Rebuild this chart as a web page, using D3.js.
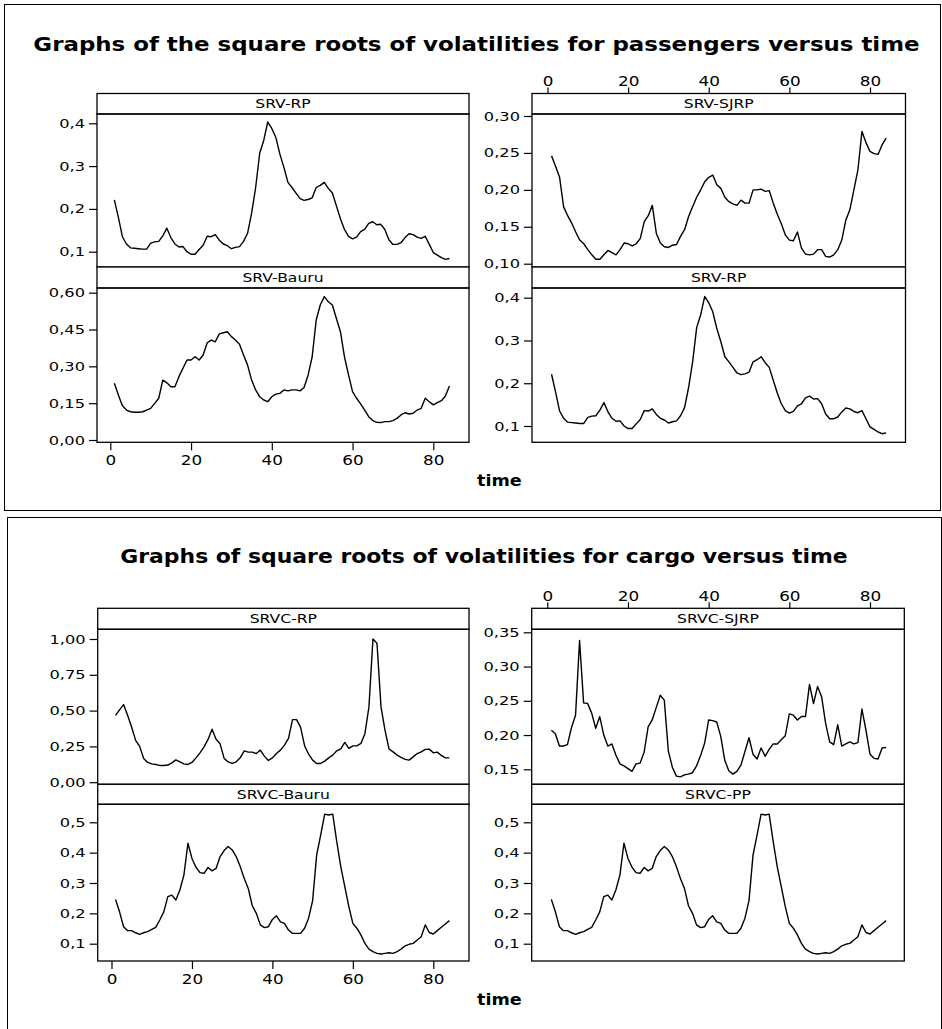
<!DOCTYPE html>
<html><head><meta charset="utf-8">
<script src="https://cdn.jsdelivr.net/npm/d3@7"></script>
<style>
body{margin:0;background:#fff;}
svg{display:block;background:#fff;}
</style></head><body>
<svg id="chart" width="942" height="1029"></svg>
<script>
// ---------- data ----------
const titles = [
  "Graphs of the square roots of volatilities for passengers versus time",
  "Graphs of square roots of volatilities for cargo versus time"
];
const axisTitle = "time";
const panelNames = ["SRV-RP","SRV-SJRP","SRV-Bauru","SRV-RP","SRVC-RP","SRVC-SJRP","SRVC-Bauru","SRVC-PP"];
const time = d3.range(1, 85);
const xTicks = [0, 20, 40, 60, 80];

const srvRP = [0.221,0.180,0.135,0.118,0.109,0.108,0.107,0.106,0.106,0.120,
 0.123,0.124,0.137,0.155,0.133,0.118,0.111,0.112,0.100,0.094,
 0.094,0.105,0.115,0.136,0.135,0.140,0.127,0.118,0.114,0.107,
 0.110,0.112,0.124,0.143,0.190,0.250,0.330,0.360,0.403,0.388,
 0.367,0.328,0.297,0.262,0.250,0.237,0.224,0.220,0.222,0.226,
 0.250,0.255,0.262,0.248,0.237,0.207,0.177,0.152,0.136,0.130,
 0.134,0.147,0.152,0.166,0.170,0.163,0.164,0.152,0.128,0.117,
 0.117,0.121,0.133,0.142,0.140,0.134,0.131,0.136,0.117,0.098,
 0.092,0.086,0.082,0.084];
const srvSJRP = [0.246,0.232,0.217,0.177,0.165,0.155,0.143,0.132,0.127,0.119,
 0.112,0.106,0.106,0.112,0.118,0.115,0.112,0.119,0.128,0.127,
 0.124,0.127,0.134,0.157,0.165,0.179,0.141,0.128,0.123,0.122,
 0.125,0.126,0.137,0.146,0.164,0.177,0.190,0.200,0.211,0.217,
 0.220,0.207,0.202,0.190,0.184,0.181,0.179,0.186,0.182,0.182,
 0.200,0.200,0.201,0.198,0.199,0.182,0.167,0.154,0.139,0.132,
 0.131,0.143,0.121,0.113,0.112,0.113,0.119,0.119,0.110,0.109,
 0.112,0.119,0.132,0.159,0.173,0.200,0.227,0.279,0.264,0.252,
 0.249,0.248,0.261,0.270];
const srvBauru = [0.231,0.183,0.140,0.122,0.115,0.113,0.113,0.115,0.122,0.129,
 0.149,0.170,0.244,0.233,0.217,0.217,0.258,0.292,0.326,0.326,
 0.339,0.326,0.346,0.396,0.407,0.400,0.432,0.437,0.441,0.421,
 0.407,0.390,0.346,0.305,0.244,0.204,0.176,0.163,0.156,0.176,
 0.187,0.190,0.204,0.200,0.204,0.204,0.200,0.214,0.265,0.339,
 0.489,0.550,0.584,0.563,0.550,0.495,0.441,0.339,0.265,0.197,
 0.170,0.147,0.122,0.095,0.079,0.072,0.071,0.075,0.075,0.079,
 0.088,0.102,0.111,0.106,0.109,0.122,0.129,0.170,0.156,0.143,
 0.152,0.160,0.179,0.220];
const srvcRP = [0.467,0.505,0.542,0.467,0.386,0.292,0.250,0.166,0.138,0.128,
 0.124,0.117,0.117,0.120,0.135,0.156,0.142,0.128,0.124,0.138,
 0.170,0.205,0.247,0.299,0.370,0.300,0.268,0.166,0.142,0.131,
 0.142,0.170,0.219,0.210,0.210,0.200,0.224,0.182,0.152,0.170,
 0.200,0.224,0.259,0.306,0.437,0.437,0.385,0.255,0.196,0.154,
 0.131,0.131,0.147,0.170,0.189,0.219,0.233,0.278,0.236,0.254,
 0.254,0.271,0.339,0.526,1.000,0.970,0.526,0.362,0.232,0.212,
 0.189,0.173,0.159,0.154,0.177,0.200,0.212,0.229,0.231,0.205,
 0.210,0.187,0.170,0.170];
const srvcSJRP = [0.207,0.202,0.184,0.184,0.186,0.211,0.229,0.338,0.247,0.246,
 0.232,0.210,0.227,0.200,0.184,0.187,0.171,0.158,0.155,0.151,
 0.147,0.158,0.159,0.175,0.212,0.222,0.240,0.258,0.251,0.177,
 0.153,0.140,0.139,0.142,0.143,0.145,0.155,0.170,0.188,0.222,
 0.221,0.219,0.198,0.163,0.148,0.143,0.147,0.156,0.176,0.196,
 0.172,0.165,0.181,0.169,0.179,0.187,0.187,0.193,0.199,0.231,
 0.229,0.222,0.227,0.227,0.274,0.246,0.271,0.256,0.217,0.190,
 0.186,0.215,0.184,0.187,0.190,0.187,0.189,0.238,0.207,0.172,
 0.166,0.165,0.181,0.182];
const srvcBauru = [0.246,0.205,0.156,0.143,0.143,0.136,0.131,0.136,0.140,0.147,
 0.154,0.178,0.205,0.255,0.260,0.244,0.277,0.326,0.431,0.381,
 0.352,0.334,0.332,0.351,0.340,0.348,0.387,0.407,0.420,0.409,
 0.387,0.354,0.315,0.282,0.225,0.200,0.162,0.153,0.156,0.180,
 0.192,0.172,0.167,0.145,0.134,0.134,0.134,0.151,0.184,0.242,
 0.392,0.458,0.527,0.524,0.527,0.436,0.354,0.288,0.222,0.167,
 0.151,0.129,0.101,0.082,0.074,0.068,0.066,0.068,0.070,0.068,
 0.074,0.082,0.093,0.098,0.101,0.112,0.123,0.162,0.137,0.132,
 0.143,0.154,0.165,0.176];
const srvcPP = [0.246,0.205,0.156,0.143,0.143,0.136,0.131,0.136,0.140,0.147,
 0.154,0.178,0.205,0.255,0.260,0.244,0.277,0.326,0.431,0.381,
 0.352,0.334,0.332,0.351,0.340,0.348,0.387,0.407,0.420,0.409,
 0.387,0.354,0.315,0.282,0.225,0.200,0.162,0.153,0.156,0.180,
 0.192,0.172,0.167,0.145,0.134,0.134,0.134,0.151,0.184,0.242,
 0.392,0.458,0.527,0.524,0.527,0.436,0.354,0.288,0.222,0.167,
 0.151,0.129,0.101,0.082,0.074,0.068,0.066,0.068,0.070,0.068,
 0.074,0.082,0.093,0.098,0.101,0.112,0.123,0.162,0.137,0.132,
 0.143,0.154,0.165,0.176];

const yTicksRP = [0.1, 0.2, 0.3, 0.4];
const yTicksSJRP = [0.10, 0.15, 0.20, 0.25, 0.30];
const yTicksBauru = [0.00, 0.15, 0.30, 0.45, 0.60];
const yTicksCRP = [0.00, 0.25, 0.50, 0.75, 1.00];
const yTicksCSJRP = [0.15, 0.20, 0.25, 0.30, 0.35];
const yTicksCBauru = [0.1, 0.2, 0.3, 0.4, 0.5];

// ---------- layout ----------
const FONT = '"DejaVu Sans", Verdana, sans-serif';
const figs = [
  {title: titles[0], cx: 476.5, base: 51, tw: 887, box: [4.5, 4.5, 936, 506], timeX: 477, timeBase: 486, topLblGap: 1.5,
   cols: [{x0: 97, x1: 469, t0: 110.3, t80: 433.3}, {x0: 532, x1: 905.5, t0: 547.5, t80: 870}],
   rows: [{s0: 93.5, s1: 114, p1: 267}, {s0: 267, s1: 288, p1: 442.3}]},
  {title: titles[1], cx: 484, base: 563, tw: 728, box: [7.5, 517.5, 934, 530], timeX: 477, timeBase: 1005, topLblGap: 1.5,
   cols: [{x0: 97.7, x1: 469, t0: 111.5, t80: 433.3}, {x0: 531.7, x1: 904.3, t0: 547.3, t80: 870}],
   rows: [{s0: 608.3, s1: 629.3, p1: 784.3}, {s0: 784.3, s1: 804.3, p1: 961}]}
];
const panels = [
  {fig: 0, row: 0, col: 0, name: panelNames[0], data: srvRP, ticks: yTicksRP, dec: 1, cal: [[0.1, 251.7], [0.4, 123.3]]},
  {fig: 0, row: 0, col: 1, name: panelNames[1], data: srvSJRP, ticks: yTicksSJRP, dec: 2, cal: [[0.10, 263.7], [0.30, 116]], top: true},
  {fig: 0, row: 1, col: 0, name: panelNames[2], data: srvBauru, ticks: yTicksBauru, dec: 2, cal: [[0, 440], [0.6, 292.7]], bottom: true},
  {fig: 0, row: 1, col: 1, name: panelNames[3], data: srvRP, ticks: yTicksRP, dec: 1, cal: [[0.1, 426], [0.4, 297.7]]},
  {fig: 1, row: 0, col: 0, name: panelNames[4], data: srvcRP, ticks: yTicksCRP, dec: 2, cal: [[0, 782.2], [1, 639]]},
  {fig: 1, row: 0, col: 1, name: panelNames[5], data: srvcSJRP, ticks: yTicksCSJRP, dec: 2, cal: [[0.15, 769.3], [0.35, 632.3]], top: true},
  {fig: 1, row: 1, col: 0, name: panelNames[6], data: srvcBauru, ticks: yTicksCBauru, dec: 1, cal: [[0.1, 943.7], [0.5, 822.3]], bottom: true},
  {fig: 1, row: 1, col: 1, name: panelNames[7], data: srvcPP, ticks: yTicksCBauru, dec: 1, cal: [[0.1, 943.7], [0.5, 822.3]]}
];

const svg = d3.select('#chart');

function hs(sel, sx) {
  sel.each(function () {
    const t = d3.select(this);
    const x = +t.attr('x') || 0;
    t.attr('x', x / sx).attr('transform', `scale(${sx},1)`);
  });
}
const yFmt = dec => d => d3.format(`.${dec}f`)(d).replace('.', ',');

function styleAxis(a, size, sx) {
  a.select('.domain').remove();
  a.selectAll('.tick line').attr('stroke', '#000').attr('stroke-width', 1.2);
  a.attr('font-family', FONT);
  const t = a.selectAll('.tick text').attr('fill', '#000').style('font-size', size + 'px').style('font-family', FONT);
  hs(t, sx);
}

figs.forEach(F => {
  svg.append('rect').attr('x', F.box[0]).attr('y', F.box[1]).attr('width', F.box[2]).attr('height', F.box[3])
    .attr('fill', 'none').attr('stroke', '#000').attr('stroke-width', 1);
  const tt = svg.append('text').attr('x', F.cx).attr('y', F.base).attr('text-anchor', 'middle')
    .style('font-family', FONT).style('font-weight', 'bold').style('font-size', '19px').attr('fill', '#000').text(F.title);
  const w = tt.node().getComputedTextLength();
  hs(tt, F.tw / w);
  const tm = svg.append('text').attr('x', F.timeX).attr('y', F.timeBase)
    .style('font-family', FONT).style('font-weight', 'bold').style('font-size', '16px').attr('fill', '#000').text(axisTitle);
  hs(tm, 1.1);
});

panels.forEach(p => {
  const F = figs[p.fig], C = F.cols[p.col], R = F.rows[p.row];
  const x = d3.scaleLinear().domain([0, 80]).range([C.t0, C.t80]);
  const y = d3.scaleLinear().domain([p.cal[0][0], p.cal[1][0]]).range([p.cal[0][1], p.cal[1][1]]);
  const g = svg.append('g');
  g.append('rect').attr('x', C.x0).attr('y', R.s0).attr('width', C.x1 - C.x0).attr('height', R.s1 - R.s0)
    .attr('fill', '#fff').attr('stroke', '#000').attr('stroke-width', 1.3);
  const st = g.append('text').attr('x', (C.x0 + C.x1) / 2).attr('y', (R.s0 + R.s1) / 2 + 4.5)
    .attr('text-anchor', 'middle').style('font-family', FONT).style('font-size', '12.5px').attr('fill', '#000').text(p.name);
  hs(st, 1.25);
  g.append('path').datum(p.data)
    .attr('d', d3.line().x((d, i) => x(time[i])).y(d => y(d)))
    .attr('fill', 'none').attr('stroke', '#000').attr('stroke-width', 1.4).attr('stroke-linejoin', 'round');
  g.append('rect').attr('x', C.x0).attr('y', R.s1).attr('width', C.x1 - C.x0).attr('height', R.p1 - R.s1)
    .attr('fill', 'none').attr('stroke', '#000').attr('stroke-width', 1.3);
  const ya = g.append('g').attr('transform', `translate(${C.x0},0)`)
    .call(d3.axisLeft(y).tickValues(p.ticks).tickFormat(yFmt(p.dec)).tickSize(8).tickPadding(4));
  styleAxis(ya, 12.5, 1.3);
  if (p.bottom) {
    const xa = g.append('g').attr('transform', `translate(0,${R.p1})`)
      .call(d3.axisBottom(x).tickValues(xTicks).tickFormat(d3.format('d')).tickSize(8).tickPadding(5));
    styleAxis(xa, 14, 1.2);
  }
  if (p.top) {
    const xa = g.append('g').attr('transform', `translate(0,${R.s0})`)
      .call(d3.axisTop(x).tickValues(xTicks).tickFormat(d3.format('d')).tickSize(6).tickPadding(F.topLblGap));
    styleAxis(xa, 14, 1.2);
  }
});
</script>
</body></html>
